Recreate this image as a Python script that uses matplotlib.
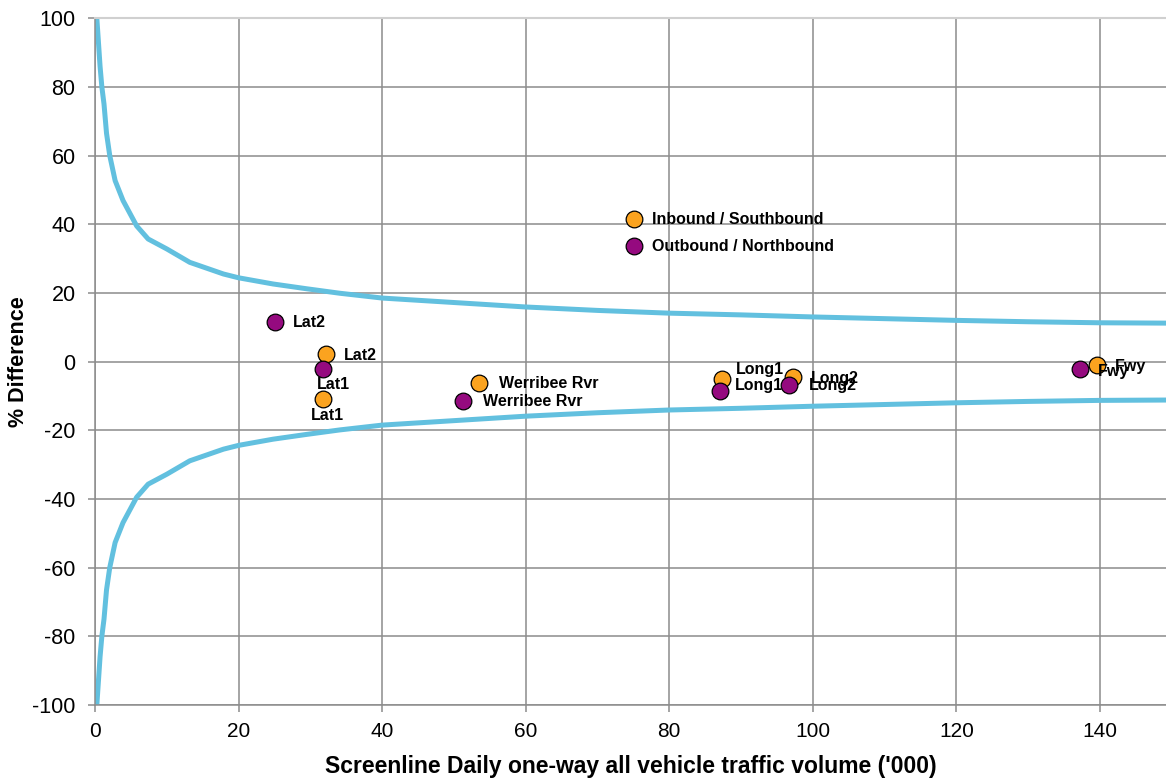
import matplotlib
matplotlib.use("Agg")
import matplotlib.pyplot as plt

plt.rcParams['font.family'] = ['Liberation Sans', 'DejaVu Sans']
plt.rcParams['axes.unicode_minus'] = False

# Acceptance limit (+/- % difference) against screenline volume ('000)
limit_x = [0.25, 0.7, 0.95, 1.25, 1.6, 2.05, 2.8, 3.9, 5.8, 7.4, 10.0, 13.2, 17.9,
           20.0, 24.8, 29.5, 34.1, 40.0, 50.0, 60.0, 70.0, 80.0, 90.0, 100.0,
           110.0, 120.0, 130.0, 140.0, 149.2]
limit_y = [100.0, 86.0, 80.0, 75.0, 66.5, 60.0, 52.7, 46.9, 39.5, 35.7, 32.8, 28.9,
           25.5, 24.4, 22.6, 21.2, 19.9, 18.5, 17.2, 15.9, 14.9, 14.1, 13.6, 13.0,
           12.5, 12.0, 11.6, 11.3, 11.2]

# Screenline results, inbound / southbound
in_names = ["Lat2", "Lat1", "Werribee Rvr", "Long1", "Long2", "Fwy"]
in_volume = [32.2, 31.8, 53.5, 87.3, 97.2, 139.6]
in_diff = [2.3, -10.8, -6.1, -5.2, -4.4, -0.9]

# Screenline results, outbound / northbound
out_names = ["Lat2", "Lat1", "Werribee Rvr", "Long1", "Long2", "Fwy"]
out_volume = [25.1, 31.8, 51.3, 87.0, 96.7, 137.2]
out_diff = [11.4, -2.3, -11.4, -8.7, -6.7, -2.3]

# In-plot key
key_labels = ["Inbound / Southbound", "Outbound / Northbound"]
key_x = [75.1, 75.1]
key_y = [41.6, 33.8]

orange = "#FBA31F"
purple = "#950A7F"
curve = "#62C0DF"

fig = plt.figure(figsize=(11.66, 7.84), dpi=100)
ax = fig.add_axes([0.0815, 0.1008, 0.9185, 0.876])

ax.plot(limit_x, limit_y, color=curve, lw=3.6, solid_joinstyle='round', zorder=2)
ax.plot(limit_x, [-v for v in limit_y], color=curve, lw=3.6, solid_joinstyle='round', zorder=2)

mk = dict(marker='o', ms=12, mec='black', mew=0.9, ls='none', zorder=4)
ax.plot(in_volume, in_diff, mfc=orange, **mk)
ax.plot(out_volume, out_diff, mfc=purple, **mk)
ax.plot(key_x[:1], key_y[:1], mfc=orange, **mk)
ax.plot(key_x[1:], key_y[1:], mfc=purple, **mk)

lbl = dict(fontsize=11.5, fontweight='bold', color='black', zorder=5)
# label offsets in points: (dx, dy, ha, va)
in_off = {"Lat2": (13, -1, 'left', 'center'),
          "Lat1": (3, -6.5, 'center', 'top'),
          "Werribee Rvr": (14, -0.5, 'left', 'center'),
          "Long1": (10, 7, 'left', 'center'),
          "Long2": (13, -1.5, 'left', 'center'),
          "Fwy": (13, -1.5, 'left', 'center')}
out_off = {"Lat2": (13, 0, 'left', 'center'),
           "Lat1": (7, -5.5, 'center', 'top'),
           "Werribee Rvr": (14, -0.5, 'left', 'center'),
           "Long1": (11, 4.5, 'left', 'center'),
           "Long2": (14, -0.5, 'left', 'center'),
           "Fwy": (13, -1.5, 'left', 'center')}
for n, x, y in zip(in_names, in_volume, in_diff):
    dx, dy, ha, va = in_off[n]
    ax.annotate(n, (x, y), xytext=(dx, dy), textcoords='offset points', ha=ha, va=va, **lbl)
for n, x, y in zip(out_names, out_volume, out_diff):
    dx, dy, ha, va = out_off[n]
    ax.annotate(n, (x, y), xytext=(dx, dy), textcoords='offset points', ha=ha, va=va, **lbl)
for n, x, y in zip(key_labels, key_x, key_y):
    ax.annotate(n, (x, y), xytext=(13, -0.5), textcoords='offset points', ha='left', va='center', **lbl)

ax.set_xlim(0, 149.2)
ax.set_ylim(-100, 100)
ax.set_xticks(range(0, 141, 20))
ax.set_yticks(range(-100, 101, 20))
ax.grid(True, color='#8C8C8C', lw=1.1, zorder=0)
ax.set_axisbelow(True)
for s in ['left', 'bottom']:
    ax.spines[s].set_color('#8C8C8C')
    ax.spines[s].set_linewidth(1.1)
ax.spines['top'].set_color('#D0D0D0')
ax.spines['top'].set_linewidth(1.5)
ax.spines['right'].set_visible(False)
ax.tick_params(axis='both', labelsize=15, color='#8C8C8C', length=5, width=1.1)
ax.tick_params(axis='x', pad=7)
ax.tick_params(axis='y', labelsize=15.5, pad=9)

ax.set_xlabel("Screenline Daily one-way all vehicle traffic volume ('000)",
              fontsize=16.5, fontweight='bold', labelpad=10)
ax.set_ylabel("% Difference", fontsize=15.5, fontweight='bold', labelpad=2)

fig.savefig("out.png", dpi=100)
